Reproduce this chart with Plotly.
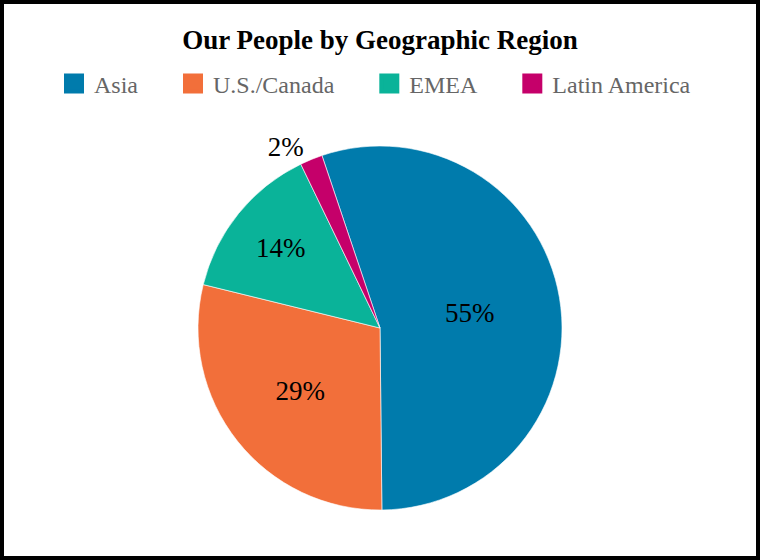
import plotly.graph_objects as go

categories = ["Asia", "U.S./Canada", "EMEA", "Latin America"]
values = [55, 29, 14, 2]
colors = ["#007BAC", "#F26F3A", "#0AB399", "#C5006A"]

W, H = 760, 560
SERIF = "Liberation Serif, Times New Roman, serif"
PAD = "\u00a0" * 5

fig = go.Figure()
fig.add_trace(go.Pie(
    labels=categories, values=values, sort=False, direction="clockwise",
    rotation=-18.6,
    marker=dict(colors=colors, line=dict(color="rgba(255,255,255,0.6)", width=1)),
    textinfo="percent", textposition="auto",
    textfont=dict(family=SERIF, size=27, color="#000"),
    insidetextfont=dict(family=SERIF, size=27, color="#000"),
    outsidetextfont=dict(family=SERIF, size=27, color="#000"),
    showlegend=False, hoverinfo="label+percent",
    domain=dict(x=[198 / W, 562 / W], y=[1 - 510 / H, 1 - 146 / H]),
))

for i, (c, col) in enumerate(zip(categories, colors)):
    fig.add_trace(go.Scatter(
        x=[None], y=[None], mode="markers",
        name=c + (PAD if i < len(categories) - 1 else ""),
        marker=dict(symbol="square", size=16, color=col, line=dict(color=col, width=4)),
        hoverinfo="skip",
    ))

fig.update_layout(
    width=W, height=H,
    margin=dict(l=0, r=0, t=0, b=0),
    paper_bgcolor="white", plot_bgcolor="white",
    title=dict(text="<b>Our People by Geographic Region</b>", x=0.5, xanchor="center",
               y=1 - 40 / H, yanchor="middle", yref="container",
               font=dict(family=SERIF, size=27, color="#000")),
    legend=dict(orientation="h", x=0.5 - 5 / W, xanchor="center", y=1 - 84 / H, yanchor="middle",
                font=dict(family=SERIF, size=24, color="#666"),
                bgcolor="rgba(0,0,0,0)"),
    xaxis=dict(visible=False), yaxis=dict(visible=False),
    shapes=[dict(type="rect", xref="paper", yref="paper", x0=2 / W, x1=1 - 2 / W,
                 y0=2 / H, y1=1 - 2 / H, line=dict(color="#000", width=4),
                 fillcolor="rgba(0,0,0,0)", layer="above")],
)

fig.write_html("out.html", config={"displayModeBar": False},
               post_script="document.body.style.margin='0';")
